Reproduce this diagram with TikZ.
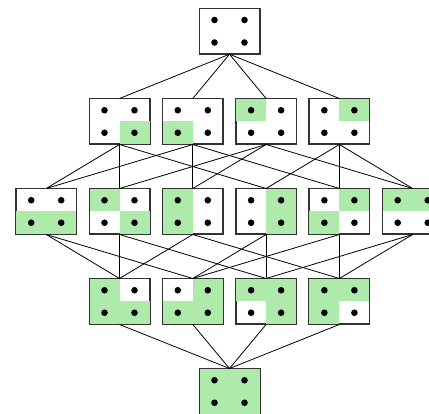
\documentclass[tikz,border=0pt]{standalone}
\usepackage{tikz}
\usetikzlibrary{positioning}

\definecolor{setgreen}{RGB}{174,235,170}
\definecolor{setline}{RGB}{50,50,50}

\tikzset{
  setbox/.style={rectangle, draw=setline, line width=1pt, minimum width=60pt,
    minimum height=45pt, inner sep=0pt},
  setdot/.style={fill=black},
  hasse/.style={draw=black, line width=0.8pt}
}

% one box of the lattice: name, position, filled cells (anchor pairs)
\newcommand{\subsetbox}[3]{%
  \node[setbox] (#1) at (#2) {};
  \foreach \a/\b in {#3}
    \fill[setgreen] (#1.\a) rectangle (#1.\b);
  \foreach \dx/\dy in {-15/-11.25, 15/-11.25, -15/11.25, 15/11.25}
    \fill[setdot] ([shift={(\dx,\dy)}]#1.center) circle (3.3);
  \draw[setline, line width=1pt] (#1.north west) rectangle (#1.south east);
}

\begin{document}
\begin{tikzpicture}[x=1pt, y=-1pt]
  \useasboundingbox (0,0) rectangle (429,414);
  \clip (0,0) rectangle (429,414);

  % empty set
  \subsetbox{none}{229.5,31.25}{}
  % one cell
  \subsetbox{br}{119.5,121.5}{center/south east}
  \subsetbox{bl}{192.8,121.5}{west/south}
  \subsetbox{tl}{266.1,121.5}{north west/center}
  \subsetbox{tr}{339.4,121.5}{north/east}
  % two cells
  \subsetbox{blbr}{46.2,211.5}{west/south east}
  \subsetbox{tlbr}{119.5,211.5}{north west/center, center/south east}
  \subsetbox{tlbl}{192.8,211.5}{north west/south}
  \subsetbox{trbr}{266.1,211.5}{north/south east}
  \subsetbox{trbl}{339.4,211.5}{north/east, west/south}
  \subsetbox{tltr}{412.7,211.5}{north west/east}
  % three cells
  \subsetbox{notr}{119.5,301.5}{north west/south, south/east}
  \subsetbox{notl}{192.8,301.5}{north/south east, west/south}
  \subsetbox{nobl}{266.1,301.5}{north west/east, center/south east}
  \subsetbox{nobr}{339.4,301.5}{north west/east, west/south}
  % all cells
  \subsetbox{all}{229.5,391.5}{north west/south east}

  % covering relations
  \foreach \u/\v in {none/br, none/bl, none/tl, none/tr,
      br/blbr, br/tlbr, br/trbr, bl/blbr, bl/tlbl, bl/trbl,
      tl/tlbr, tl/tlbl, tl/tltr, tr/trbr, tr/trbl, tr/tltr,
      blbr/notr, blbr/notl, tlbr/notr, tlbr/nobl, tlbl/notr, tlbl/nobr,
      trbr/notl, trbr/nobl, trbl/notl, trbl/nobr, tltr/nobl, tltr/nobr,
      notr/all, notl/all, nobl/all, nobr/all}
    \draw[hasse] (\u.south) -- (\v.north);
\end{tikzpicture}
\end{document}
